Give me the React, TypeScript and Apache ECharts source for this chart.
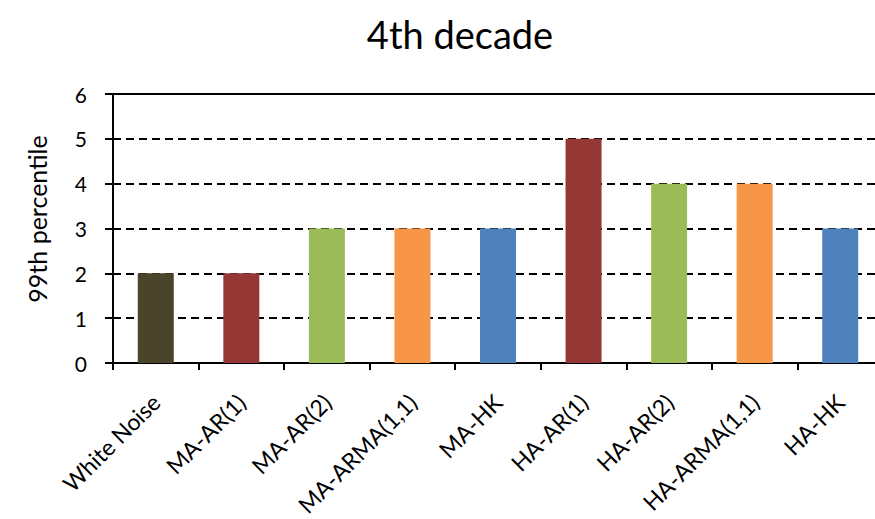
import React, { useEffect, useRef } from "react";
import * as echarts from "echarts";

const categories = [
  "White Noise",
  "MA-AR(1)",
  "MA-AR(2)",
  "MA-ARMA(1,1)",
  "MA-HK",
  "HA-AR(1)",
  "HA-AR(2)",
  "HA-ARMA(1,1)",
  "HA-HK",
];
const values = [2, 2, 3, 3, 3, 5, 4, 4, 3];
const barColors = ["#4A452A", "#953735", "#9BBB59", "#F79646", "#4F81BD", "#953735", "#9BBB59", "#F79646", "#4F81BD"];
const yTicks = [0, 1, 2, 3, 4, 5, 6];
const titleText = "4th decade";
const yAxisName = "99th percentile";

const FONT = "Lato, 'Open Sans', sans-serif";

export default function App() {
  const ref = useRef<HTMLDivElement>(null);
  useEffect(() => {
    if (!ref.current) return;
    const chart = echarts.init(ref.current, undefined, { renderer: "svg" });
    chart.setOption({
      animation: false,
      backgroundColor: "#ffffff",
      textStyle: { fontFamily: FONT },
      graphic: [
        {
          type: "text",
          x: 460,
          y: 34,
          style: {
            text: titleText,
            fontSize: 38,
            fontFamily: FONT,
            fill: "#000",
            textAlign: "center",
            textVerticalAlign: "middle",
          },
        },
        {
          type: "text",
          x: 37,
          y: 219,
          rotation: Math.PI / 2,
          style: {
            text: yAxisName,
            fontSize: 25,
            fontFamily: FONT,
            fill: "#000",
            textAlign: "center",
            textVerticalAlign: "middle",
          },
        },
      ],
      grid: {
        left: 113,
        right: 17,
        top: 94,
        bottom: 519 - 363,
        show: true,
        borderColor: "#000",
        borderWidth: 2,
        backgroundColor: "transparent",
      },
      xAxis: {
        type: "category",
        data: categories,
        boundaryGap: true,
        axisLine: { show: true, lineStyle: { color: "#000", width: 2 } },
        axisTick: { show: true, alignWithLabel: false, length: 7, lineStyle: { color: "#000", width: 2 } },
        axisLabel: {
          rotate: 45,
          interval: 0,
          margin: 35,
          fontSize: 23,
          color: "#000",
          fontFamily: FONT,
        },
        splitLine: { show: false },
      },
      yAxis: {
        type: "value",
        min: yTicks[0],
        max: yTicks[yTicks.length - 1],
        interval: 1,
        axisLine: { show: true, lineStyle: { color: "#000", width: 2 } },
        axisTick: { show: true, length: 8, inside: false, lineStyle: { color: "#000", width: 2 } },
        axisLabel: { fontSize: 21, color: "#000", margin: 26, fontFamily: FONT },
        splitLine: { show: true, lineStyle: { color: "#000", type: [8, 5], width: 2 } },
      },
      series: [
        {
          type: "bar",
          data: values.map((v, i) => ({ value: v, itemStyle: { color: barColors[i] } })),
          barWidth: 36,
        },
      ],
    });
    return () => chart.dispose();
  }, []);
  return (
    <div style={{ position: "fixed", left: 0, top: 0, width: 875, height: 519, overflow: "hidden", background: "#fff" }}>
      <div ref={ref} style={{ width: 900, height: 519 }} />
    </div>
  );
}
